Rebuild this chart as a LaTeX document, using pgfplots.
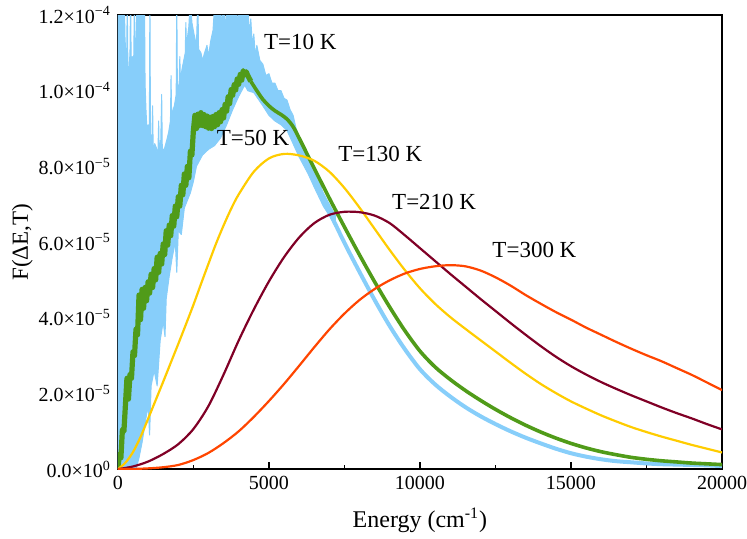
\documentclass[border=0pt]{standalone}
\usepackage{fontspec}
\setmainfont{Liberation Serif}
\usepackage{pgfplots}
\pgfplotsset{compat=1.18}

\definecolor{cblue}{RGB}{135,206,250}
\definecolor{cgreen}{RGB}{80,155,25}
\definecolor{cyellow}{RGB}{255,204,0}
\definecolor{cmaroon}{RGB}{128,0,38}
\definecolor{corange}{RGB}{255,69,0}

\begin{document}
\begin{tikzpicture}
\begin{axis}[
    scale only axis,
    width=302pt, height=227pt,
    xmin=0, xmax=20000, ymin=0, ymax=12,
    scaled x ticks=false,
    xtick={0,5000,10000,15000,20000},
    xticklabels={0,5000,10000,15000,20000},
    minor xtick={2500,7500,12500,17500},
    ytick={0,2,4,6,8,10,12},
    yticklabels={0.0×10\textsuperscript{0},2.0×10\textsuperscript{−5},4.0×10\textsuperscript{−5},6.0×10\textsuperscript{−5},8.0×10\textsuperscript{−5},1.0×10\textsuperscript{−4},1.2×10\textsuperscript{−4}},
    minor ytick={1,3,5,7,9,11},
    xtick pos=bottom, ytick pos=left,
    tick align=inside,
    major tick length=3.4pt, minor tick length=2.2pt,
    tick style={black, line width=0.7pt},
    axis line style={line width=0.8pt},
    tick label style={font=\fontsize{10}{12}\selectfont},
    xticklabel style={inner xsep=0pt},
    xlabel={Energy (cm\textsuperscript{-1})},
    ylabel={F(ΔE,T)},
    every axis x label/.style={at={(axis description cs:0.5,-0.112)}, anchor=center,
        font=\fontsize{12}{14}\selectfont},
    every axis y label/.style={at={(axis description cs:-0.158,0.5)}, rotate=90, anchor=center,
        font=\fontsize{11.5}{13}\selectfont, inner ysep=6pt},
    every axis plot/.append style={line join=round},
]

% T=10 K : noisy band (upper edge, then lower edge back)
\addplot[draw=cblue, fill=cblue, line width=0.5pt] coordinates {
(0,0) (0,12.5) (220,12.5) (230,11.5) (260,11.0) (290,10.6) (310,12.5) (330,10.7) (360,10.4)
(400,11.0) (420,12.5) (440,10.8) (480,10.9) (520,10.6) (550,12.5) (570,10.3)
(600,11.0) (630,12.5) (840,12.5) (860,11.0) (880,12.5) (900,10.2) (930,9.5) (960,9.0)
(1000,9.1) (1040,8.7) (1060,12.5) (1080,8.8) (1120,8.5) (1150,9.6) (1170,8.4) (1220,8.6)
(1270,8.5) (1320,8.2) (1350,9.2) (1370,8.3) (1420,8.7) (1450,9.9) (1470,8.5)
(1520,8.4) (1620,8.7) (1680,8.9) (1740,9.2) (1760,10.4) (1780,9.3)
(1830,9.5) (1870,9.6) (1930,9.9) (1950,12.5) (1970,10.0) (2030,10.2) (2050,10.9)
(2070,10.3) (2130,10.6) (2230,11.0) (2250,11.8) (2270,11.2) (2350,11.7)
(2400,12.5) (2450,11.8) (2520,11.5) (2600,11.2) (2650,12.5) (2670,11.1) (2750,11.0) (2800,10.8)
(2870,11.0) (2950,11.2) (3000,10.9) (3070,11.3) (3150,11.6) (3220,12.5)
(3300,11.9) (3340,12.5) (3420,11.7) (3480,12.5) (3560,11.6) (3620,12.5) (3700,11.9) (3760,12.5)
(3820,11.8) (3880,12.5) (3960,11.7) (4020,12.5) (4280,12.5)
(4350,11.5) (4400,11.9) (4450,11.2) (4500,11.5) (4550,10.9) (4600,11.2) (4700,10.8) (4800,10.7)
(4900,10.4) (5000,10.45) (5100,10.2) (5200,10.2) (5300,10.0) (5400,10.0) (5500,9.8) (5600,9.75)
(5700,9.5) (5800,9.35) (5900,9.0) (6000,8.8) (6100,8.55) (6200,8.35) (6300,8.2) (6400,8.0)
(6500,7.85) (6600,7.65) (6700,7.5) (6800,7.3) (6900,7.15) (7000,7.0) (7100,6.85) (7200,6.7)
(7200,6.4) (7000,6.7) (6800,6.95) (6500,7.45) (6300,7.8) (6000,8.25) (5800,8.6) (5600,8.95)
(5400,9.1) (5200,9.2) (5000,9.35) (4800,9.6) (4500,9.95) (4300,10.0)
(4200,10.15) (4000,9.85) (3800,9.5) (3600,9.1) (3400,8.75) (3200,8.55) (3000,8.45) (2800,8.3)
(2600,8.0) (2500,7.6) (2400,7.3) (2300,7.1) (2200,6.9) (2100,6.2) (2000,6.3) (1950,5.2)
(1900,6.0) (1800,5.6) (1700,5.1) (1600,4.5) (1560,3.5) (1500,3.9) (1400,3.4) (1300,2.2)
(1200,2.6) (1100,2.2) (1050,0.9) (1000,1.7) (900,1.2) (800,0.7) (700,0.3) (600,0) (0,0)
};
\addplot[cblue, line width=2pt, smooth] coordinates {
(7000,6.81) (7500,5.98) (8000,5.21) (8500,4.47) (9000,3.78) (9500,3.17) (10000,2.64)
(10500,2.24) (11000,1.92) (11500,1.64) (12000,1.4) (12500,1.19) (13000,1.0) (13500,0.83)
(14000,0.68) (14500,0.54) (15000,0.42) (15500,0.33) (16000,0.26) (16500,0.21) (17000,0.18)
(17500,0.15) (18000,0.13) (18500,0.12) (19000,0.11) (19500,0.1) (20000,0.08)
};

% T=50 K, noisy low-energy part
\addplot[cgreen, line width=2.6pt] coordinates {
(0,0) (50,0.4) (100,0.3) (150,1.05) (200,1.0) (250,1.7) (300,2.4) (350,1.85) (400,2.5)
(450,2.4) (500,3.1) (550,3.0) (600,3.7) (650,3.55) (700,4.6) (750,3.95) (800,4.75)
(850,4.25) (900,4.8) (950,4.45) (1000,4.95) (1050,4.65) (1100,5.15) (1150,4.8) (1200,5.3)
(1250,5.0) (1300,5.6) (1350,5.2) (1400,5.7) (1450,5.42) (1500,5.95) (1550,5.67) (1600,6.3)
(1650,5.92) (1700,6.45) (1750,6.17) (1800,6.7) (1850,6.42) (1900,6.95) (1950,6.67) (2000,7.2)
(2050,6.95) (2100,7.5) (2150,7.25) (2200,7.8) (2250,7.5) (2300,8.0) (2350,7.7) (2400,8.4)
(2450,8.3) (2500,8.95) (2550,9.35) (2600,9.0) (2650,9.38) (2700,9.08) (2750,9.42) (2800,9.08)
(2850,9.37) (2900,9.05) (2950,9.33) (3000,9.01) (3050,9.3) (3100,9.0) (3150,9.32) (3200,9.05)
(3250,9.37) (3300,9.1) (3350,9.42) (3400,9.18) (3450,9.5) (3500,9.28) (3550,9.64) (3600,9.46)
(3650,9.84) (3700,9.66) (3750,10.03) (3800,9.88) (3850,10.16) (3900,10.02) (3950,10.31) (4000,10.17)
(4050,10.43) (4100,10.28) (4150,10.53) (4200,10.42) (4250,10.5) (4300,10.4) (4400,10.25)
};
% T=50 K, smooth part
\addplot[cgreen, line width=1.8pt, smooth] coordinates {
(4400,10.25) (4600,10.0) (4800,9.77) (5000,9.6) (5200,9.47) (5400,9.37) (5600,9.25) (5800,9.05)
(6000,8.75) (6500,7.95) (7000,7.16) (7500,6.4) (8000,5.66) (8500,4.95) (9000,4.28) (9500,3.66)
(10000,3.12) (10500,2.7) (11000,2.37) (11500,2.08) (12000,1.82) (12500,1.58) (13000,1.36)
(13500,1.16) (14000,0.98) (14500,0.82) (15000,0.68) (15500,0.56) (16000,0.46) (16500,0.38)
(17000,0.31) (17500,0.26) (18000,0.22) (18500,0.19) (19000,0.16) (19500,0.14) (20000,0.12)
};

% T=130 K
\addplot[cyellow, line width=1.1pt, smooth] coordinates {
(0,0) (250,0.17) (500,0.45) (750,0.85) (1000,1.33) (1250,1.82) (1500,2.31) (1750,2.81)
(2000,3.31) (2250,3.82) (2500,4.34) (2750,4.89) (3000,5.43) (3250,5.96) (3500,6.44) (3750,6.88)
(4000,7.26) (4500,7.86) (5000,8.21) (5500,8.33) (6000,8.29) (6500,8.15) (7000,7.86) (7500,7.43)
(8000,6.91) (8500,6.35) (9000,5.79) (9500,5.26) (10000,4.78) (10500,4.37) (11000,4.02)
(11500,3.71) (12000,3.41) (12500,3.11) (13000,2.81) (13500,2.52) (14000,2.25) (14500,2.01)
(15000,1.79) (15500,1.6) (16000,1.42) (16500,1.26) (17000,1.11) (17500,0.98) (18000,0.86)
(18500,0.75) (19000,0.64) (19500,0.54) (20000,0.44)
};

% T=210 K
\addplot[cmaroon, line width=1.1pt, smooth] coordinates {
(0,0) (500,0.07) (1000,0.2) (1500,0.4) (2000,0.66) (2500,1.06) (3000,1.67) (3500,2.5)
(4000,3.4) (4500,4.22) (5000,4.96) (5500,5.6) (6000,6.12) (6500,6.5) (7000,6.72) (7500,6.8)
(8000,6.79) (8500,6.7) (9000,6.5) (9500,6.18) (10000,5.84) (10500,5.5) (11000,5.16)
(11500,4.83) (12000,4.5) (12500,4.18) (13000,3.86) (13500,3.55) (14000,3.25) (14500,2.97)
(15000,2.72) (15500,2.5) (16000,2.3) (16500,2.12) (17000,1.95) (17500,1.79) (18000,1.63)
(18500,1.48) (19000,1.34) (19500,1.19) (20000,1.05)
};

% T=300 K
\addplot[corange, line width=1.1pt, smooth] coordinates {
(0,0) (500,0.005) (1000,0.02) (1500,0.05) (2000,0.11) (2500,0.24) (3000,0.43) (3500,0.69)
(4000,1.0) (4500,1.38) (5000,1.8) (5500,2.25) (6000,2.73) (6500,3.22) (7000,3.69) (7500,4.11)
(8000,4.47) (8500,4.76) (9000,4.99) (9500,5.17) (10000,5.29) (10500,5.36) (11000,5.39)
(11500,5.36) (12000,5.25) (12500,5.07) (13000,4.85) (13500,4.6) (14000,4.37) (14500,4.15)
(15000,3.95) (15500,3.74) (16000,3.55) (16500,3.36) (17000,3.18) (17500,3.01) (18000,2.85)
(18500,2.67) (19000,2.49) (19500,2.29) (20000,2.09)
};

\node[font=\fontsize{11.5}{13}\selectfont] at (axis cs:6040,11.3) {T=10 K};
\node[font=\fontsize{11.5}{13}\selectfont] at (axis cs:4477,8.75) {T=50 K};
\node[font=\fontsize{11.5}{13}\selectfont] at (axis cs:8690,8.34) {T=130 K};
\node[font=\fontsize{11.5}{13}\selectfont] at (axis cs:10470,7.06) {T=210 K};
\node[font=\fontsize{11.5}{13}\selectfont] at (axis cs:13790,5.78) {T=300 K};
\end{axis}
\end{tikzpicture}
\end{document}
